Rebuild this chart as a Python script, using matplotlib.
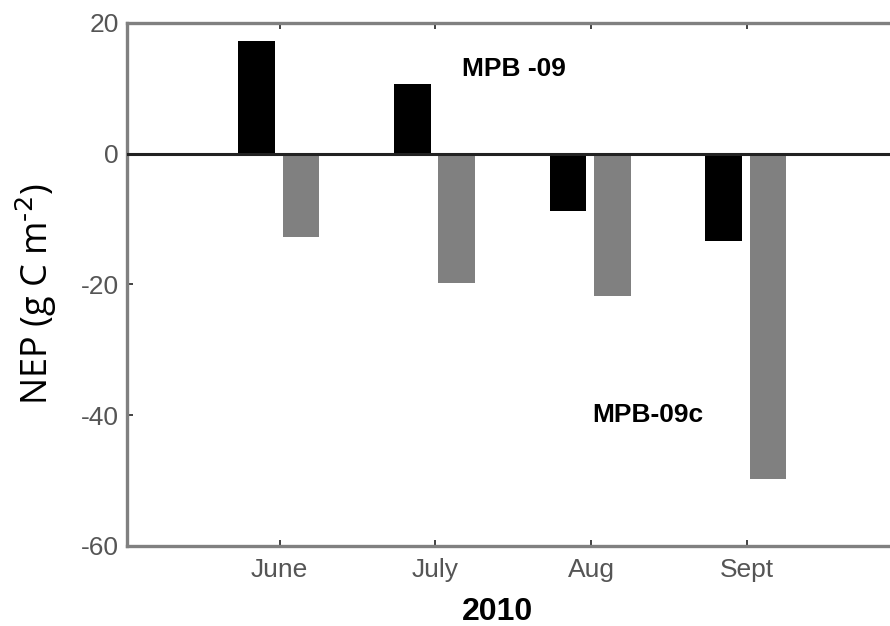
import matplotlib.pyplot as plt
import numpy as np

plt.rcParams['axes.unicode_minus'] = False

months = ['June', 'July', 'Aug', 'Sept']
mpb09 = [17.3, 10.7, -8.7, -13.3]
mpb09c = [-12.8, -19.7, -21.8, -49.8]

x = np.arange(1, len(months) + 1)
w = 0.235

fig = plt.figure(figsize=(8.9, 6.26), dpi=100)
ax = fig.add_axes([0.1427, 0.1278, 0.8573, 0.8355])

ax.bar(x - 0.148, mpb09, w, color='black', zorder=2)
ax.bar(x + 0.137, mpb09c, w, color='#808080', zorder=2)
ax.axhline(0, color='#222222', lw=2.2, zorder=3)

ax.set_xlim(0.02, 4.92)
ax.set_ylim(-60, 20)
ax.set_xticks(x)
ax.set_xticklabels(months)
ax.set_yticks([20, 0, -20, -40, -60])

for s in ['left', 'top', 'bottom']:
    ax.spines[s].set_color('#808080')
    ax.spines[s].set_linewidth(2.4)
ax.spines['right'].set_visible(False)

ax.tick_params(direction='in', length=4, width=1.2, color='#222222',
               labelsize=19, labelcolor='#555555', pad=6, top=True)
ax.tick_params(axis='x', pad=9)
for lab in ax.get_xticklabels() + ax.get_yticklabels():
    lab.set_family('Liberation Sans')

ax.set_ylabel(r'NEP (g C m$^{\text{-2}}$)', fontsize=26, family='Open Sans')
ax.yaxis.set_label_coords(-0.089, 0.482)
ax.set_xlabel('2010', fontsize=23, fontweight='bold', family='Liberation Sans')
ax.xaxis.set_label_coords(0.486, -0.097)

ax.text(2.17, 12.9, 'MPB -09', fontsize=19, fontweight='bold', family='Liberation Sans',
        ha='left', va='center')
ax.text(3.01, -40, 'MPB-09c', fontsize=19, fontweight='bold', family='Liberation Sans',
        ha='left', va='center')

fig.savefig('out.png', dpi=100)
